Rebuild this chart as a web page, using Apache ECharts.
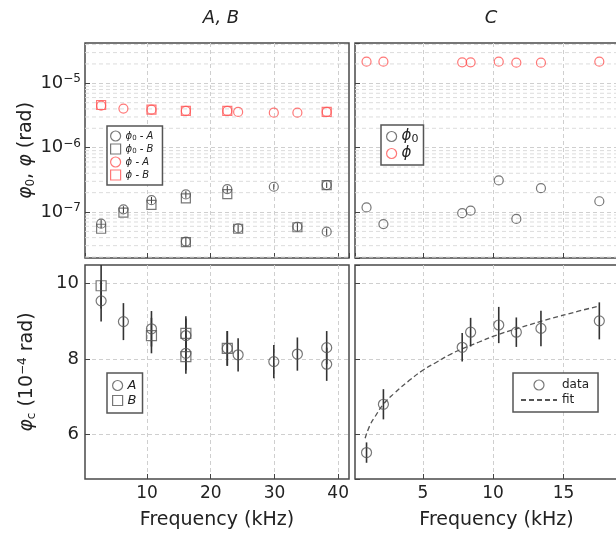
<!DOCTYPE html>
<html>
<head>
<meta charset="utf-8">
<title>phase vs frequency</title>
<script src="https://cdn.jsdelivr.net/npm/echarts@6.0.0/dist/echarts.min.js"></script>
<style>
  html, body { margin: 0; padding: 0; background: #fff; }
  #main { width: 616px; height: 537px; }
</style>
</head>
<body>
<div id="main"></div>
<script>
// samples A / B (kHz)
var freqA = [2.8, 6.3, 10.7, 16.1, 16.1, 22.6, 24.3, 29.9, 33.6, 38.2, 38.2];
var phi0A = [6.6e-8, 1.1e-7, 1.53e-7, 1.88e-7, 3.47e-8, 2.27e-7, 5.6e-8, 2.47e-7, 5.9e-8, 2.62e-7, 4.95e-8];
var relErr0A = [0.15, 0.12, 0.12, 0.12, 0.15, 0.12, 0.14, 0.1, 0.14, 0.1, 0.12];
var freqB0 = [2.8, 6.3, 10.7, 16.1, 16.1, 22.6, 24.3, 33.6, 38.2];
var phi0B = [5.5e-8, 9.8e-8, 1.29e-7, 1.63e-7, 3.4e-8, 1.9e-7, 5.5e-8, 5.8e-8, 2.62e-7];
var freqPhiA = [2.8, 6.3, 10.7, 16.1, 22.6, 24.3, 29.9, 33.6, 38.2];
var phiA = [4.5e-6, 4.05e-6, 3.9e-6, 3.72e-6, 3.72e-6, 3.59e-6, 3.5e-6, 3.5e-6, 3.59e-6];
var freqPhiB = [2.8, 10.7, 16.1, 22.6, 38.2];
var phiB = [4.6e-6, 3.9e-6, 3.72e-6, 3.72e-6, 3.59e-6];

// phi_c for A / B (10^-4 rad)
var phicA = [9.54, 8.99, 8.8, 8.62, 8.15, 8.28, 8.11, 7.93, 8.13, 8.3, 7.86];
var errA = [0.55, 0.49, 0.47, 0.45, 0.45, 0.46, 0.44, 0.44, 0.44, 0.44, 0.44];
var freqB = [2.8, 10.7, 16.1, 16.1, 22.6];
var phicB = [9.94, 8.62, 8.68, 8.06, 8.28];
var errB = [0.6, 0.47, 0.45, 0.45, 0.46];

// sample C
var freqC = [1.0, 2.2, 7.8, 8.4, 10.4, 11.65, 13.4, 17.55];
var phi0C = [1.18e-7, 6.5e-8, 9.6e-8, 1.05e-7, 3.1e-7, 7.8e-8, 2.35e-7, 1.47e-7];
var phiC = [2.17e-5, 2.17e-5, 2.12e-5, 2.12e-5, 2.17e-5, 2.09e-5, 2.09e-5, 2.17e-5];
var phicC = [5.52, 6.8, 8.31, 8.71, 8.9, 8.71, 8.81, 9.01];
var errC = [0.27, 0.4, 0.38, 0.38, 0.48, 0.39, 0.47, 0.49];
var fitFreq = [0.9, 1.25, 1.6, 2.2, 3, 4, 5, 6, 7, 8, 9, 10, 12, 14, 16, 17.4];
var fitVal = [5.9, 6.25, 6.47, 6.8, 7.1, 7.42, 7.7, 7.92, 8.13, 8.3, 8.45, 8.6, 8.84, 9.06, 9.26, 9.39];

// minor log grid (mantissa x decade)
var minorMant = [2, 3, 4, 5, 6, 7, 8, 9];
var minorExp = [-8, -7, -6, -5];

var FONT = 'DejaVu Sans';
var GRAY = '#555';
var RED = '#ff5555';
var TXT = '#222';
var LOG_MIN = 1.93e-8, LOG_MAX = 4.23e-5;

var minorVals = [];
minorExp.forEach(function (e) {
  minorMant.forEach(function (m) {
    var v = m * Math.pow(10, e);
    if (v > LOG_MIN && v < LOG_MAX) minorVals.push(v);
  });
});

function pts(xs, ys) { return xs.map(function (x, i) { return [x, ys[i]]; }); }
function errPts(xs, ys, es) { return xs.map(function (x, i) { return [x, ys[i], es[i]]; }); }

var chart = echarts.init(document.getElementById('main'));

var gridLine = { show: true, showMinLine: false, showMaxLine: false,
  lineStyle: { color: '#cfcfcf', type: [4, 3], width: 1 } };
var tick = { show: true, inside: true, length: 5, lineStyle: { color: '#444', width: 1 } };

function xAxis(gi, min, max, step, labels) {
  return {
    type: 'value', gridIndex: gi, min: min, max: max,
    minInterval: step, maxInterval: step,
    axisLine: { show: false }, axisTick: tick, splitLine: gridLine,
    axisLabel: {
      show: labels, showMinLabel: false, showMaxLabel: false, margin: 6,
      fontFamily: FONT, fontSize: 17, color: TXT
    },
    name: labels ? 'Frequency (kHz)' : '', nameLocation: 'middle', nameGap: 32,
    nameTextStyle: { fontFamily: FONT, fontSize: 19, color: TXT }
  };
}

var supRich = {
  b: { fontFamily: FONT, fontSize: 18, color: TXT },
  s: { fontFamily: FONT, fontSize: 12, color: TXT, verticalAlign: 'top', padding: [0, 0, 8, 0] }
};

function logAxis(gi, labels, name) {
  return {
    type: 'log', logBase: 10, gridIndex: gi, min: LOG_MIN, max: LOG_MAX,
    axisLine: { show: false }, axisTick: tick, splitLine: gridLine,
    axisLabel: {
      show: labels, showMinLabel: false, showMaxLabel: false, margin: 4,
      formatter: function (v) {
        var e = Math.round(Math.log(v) / Math.LN10);
        return '{b|10}{s|\u2212' + Math.abs(e) + '}';
      },
      rich: supRich
    },
    name: name || '', nameLocation: 'middle', nameGap: 42,
    nameTextStyle: {
      fontFamily: FONT, fontSize: 19, color: TXT,
      rich: {
        i: { fontFamily: FONT, fontSize: 19, fontStyle: 'italic', color: TXT },
        sub: { fontFamily: FONT, fontSize: 12, color: TXT, padding: [8, 0, 0, 0] },
        n: { fontFamily: FONT, fontSize: 19, color: TXT }
      }
    }
  };
}

function linAxis(gi, labels, name) {
  return {
    type: 'value', gridIndex: gi, min: 4.82, max: 10.49, splitNumber: 3,
    axisLine: { show: false }, axisTick: tick, splitLine: gridLine,
    axisLabel: {
      show: labels, showMinLabel: false, showMaxLabel: false, margin: 6,
      fontFamily: FONT, fontSize: 18, color: TXT
    },
    name: name || '', nameLocation: 'middle', nameGap: 47,
    nameTextStyle: {
      fontFamily: FONT, fontSize: 19, color: TXT,
      rich: {
        i: { fontFamily: FONT, fontSize: 19, fontStyle: 'italic', color: TXT },
        sub: { fontFamily: FONT, fontSize: 12, color: TXT, padding: [8, 0, 0, 0] },
        sup: { fontFamily: FONT, fontSize: 12, color: TXT, padding: [0, 0, 9, 0] },
        n: { fontFamily: FONT, fontSize: 19, color: TXT }
      }
    }
  };
}

function hollow(name, xi, symbol, color, data, size) {
  return {
    name: name, type: 'scatter', xAxisIndex: xi, yAxisIndex: xi,
    symbol: symbol, symbolSize: size || 9, z: 4,
    itemStyle: { color: 'rgba(0,0,0,0)', borderColor: color, borderWidth: 1.2 },
    emphasis: { disabled: true },
    data: data
  };
}

// vertical error bars; rel = true means the error is a fraction of the value
function errBars(name, xi, data, rel, width) {
  return {
    name: name, type: 'custom', xAxisIndex: xi, yAxisIndex: xi, clip: true, z: 3, silent: true,
    renderItem: function (params, api) {
      var x = api.value(0), y = api.value(1), e = api.value(2);
      var lo = rel ? y * (1 - e) : y - e;
      var hi = rel ? y * (1 + e) : y + e;
      var p1 = api.coord([x, lo]);
      var p2 = api.coord([x, hi]);
      return {
        type: 'line',
        shape: { x1: p1[0], y1: p1[1], x2: p2[0], y2: p2[1] },
        style: { stroke: '#333', lineWidth: width || 1.6 }
      };
    },
    data: data
  };
}

// light dashed lines at the minor decades, drawn across the whole grid
function minorGrid(name, xi, xMid) {
  return {
    name: name, type: 'custom', xAxisIndex: xi, yAxisIndex: xi, clip: true, z: 1, silent: true,
    renderItem: function (params, api) {
      var p = api.coord([api.value(0), api.value(1)]);
      var cs = params.coordSys;
      return {
        type: 'line',
        shape: { x1: cs.x, y1: p[1], x2: cs.x + cs.width, y2: p[1] },
        style: { stroke: '#dcdcdc', lineWidth: 1, lineDash: [4, 3] }
      };
    },
    data: minorVals.map(function (v) { return [xMid, v]; })
  };
}

var legendBase = {
  orient: 'vertical', selectedMode: false, backgroundColor: '#fff',
  borderColor: '#555', borderWidth: 1.5, borderRadius: 0,
  itemStyle: { borderWidth: 1.2 }
};

function legendItemText(size) {
  return {
    fontFamily: FONT, fontSize: size, color: TXT, lineHeight: size + 2,
    rich: {
      i: { fontFamily: FONT, fontSize: size, fontStyle: 'italic', color: TXT },
      s: { fontFamily: FONT, fontSize: Math.round(size * 0.7), color: TXT, padding: [size * 0.4, 0, 0, 0] },
      n: { fontFamily: FONT, fontSize: size, color: TXT }
    }
  };
}

var legendLabels = {
  'ϕ0 - A': '{i|ϕ}{s|0}{i| - A}',
  'ϕ0 - B': '{i|ϕ}{s|0}{i| - B}',
  'ϕ - A': '{i|ϕ - A}',
  'ϕ - B': '{i|ϕ - B}',
  'ϕ0': '{i|ϕ}{s|0}',
  'ϕ': '{i|ϕ}',
  'A': '{i|A}',
  'B': '{i|B}',
  'data': '{n|data}',
  'fit': '{n|fit}'
};
function legendFmt(name) { return legendLabels[name] || name; }

var gridBase = { show: true, borderColor: '#4a4a4a', borderWidth: 1.5, backgroundColor: '#fff',
  containLabel: false, outerBoundsMode: 'none' };

var option = {
  animation: false,
  backgroundColor: '#fff',
  title: [
    { text: 'A, B', left: 216, top: 4, textAlign: 'center',
      textStyle: { fontFamily: FONT, fontSize: 18, fontStyle: 'italic', fontWeight: 'normal', color: TXT } },
    { text: 'C', left: 486, top: 4, textAlign: 'center',
      textStyle: { fontFamily: FONT, fontSize: 18, fontStyle: 'italic', fontWeight: 'normal', color: TXT } }
  ],
  grid: [
    Object.assign({ left: 85, top: 43, width: 264, height: 215 }, gridBase),
    Object.assign({ left: 355, top: 43, width: 283, height: 215 }, gridBase),
    Object.assign({ left: 85, top: 265, width: 264, height: 214 }, gridBase),
    Object.assign({ left: 355, top: 265, width: 283, height: 214 }, gridBase)
  ],
  xAxis: [
    xAxis(0, 0.27, 41.7, 10, false),
    xAxis(1, 0.18, 20.3, 5, false),
    xAxis(2, 0.27, 41.7, 10, true),
    xAxis(3, 0.18, 20.3, 5, true)
  ],
  yAxis: [
    logAxis(0, true, '{i|φ}{sub|0}{n|, }{i|φ}{n| (rad)}'),
    logAxis(1, false),
    linAxis(2, true, '{i|φ}{sub|c}{n| (10}{sup|\u22124}{n| rad)}'),
    linAxis(3, false)
  ],
  legend: [
    Object.assign({}, legendBase, {
      left: 107, top: 126, padding: [4, 9, 4, 3], itemGap: 1, itemWidth: 10, itemHeight: 10,
      data: ['ϕ0 - A', 'ϕ0 - B', 'ϕ - A', 'ϕ - B'],
      formatter: legendFmt, textStyle: legendItemText(10)
    }),
    Object.assign({}, legendBase, {
      left: 381, top: 125, padding: [3, 5, 3, 5], itemGap: 0, itemWidth: 10, itemHeight: 10,
      data: ['ϕ0', 'ϕ'],
      formatter: legendFmt, textStyle: legendItemText(15)
    }),
    Object.assign({}, legendBase, {
      left: 107, top: 373, padding: [5, 6, 5, 5], itemGap: 0, itemWidth: 10, itemHeight: 10,
      data: ['A', 'B'],
      formatter: legendFmt, textStyle: legendItemText(13)
    }),
    Object.assign({}, legendBase, {
      left: 513, top: 373, padding: [5, 9, 5, 7], itemGap: 1, itemWidth: 36, itemHeight: 10,
      data: ['data', { name: 'fit', itemStyle: { opacity: 0 } }],
      formatter: legendFmt, textStyle: legendItemText(12)
    })
  ],
  series: [
    minorGrid('minorAB', 0, 20),
    errBars('err0A', 0, errPts(freqA, phi0A, relErr0A), true, 1),
    hollow('ϕ0 - A', 0, 'circle', GRAY, pts(freqA, phi0A)),
    hollow('ϕ0 - B', 0, 'rect', GRAY, pts(freqB0, phi0B)),
    hollow('ϕ - A', 0, 'circle', RED, pts(freqPhiA, phiA)),
    hollow('ϕ - B', 0, 'rect', RED, pts(freqPhiB, phiB)),

    minorGrid('minorC', 1, 10),
    hollow('ϕ0', 1, 'circle', GRAY, pts(freqC, phi0C)),
    hollow('ϕ', 1, 'circle', RED, pts(freqC, phiC)),

    errBars('errA', 2, errPts(freqA, phicA, errA)),
    errBars('errB', 2, errPts(freqB, phicB, errB)),
    hollow('A', 2, 'circle', GRAY, pts(freqA, phicA), 10),
    hollow('B', 2, 'rect', GRAY, pts(freqB, phicB), 10),

    errBars('errC', 3, errPts(freqC, phicC, errC)),
    hollow('data', 3, 'circle', GRAY, pts(freqC, phicC), 10),
    {
      name: 'fit', type: 'line', xAxisIndex: 3, yAxisIndex: 3, smooth: true,
      symbol: 'none', z: 2,
      lineStyle: { color: GRAY, width: 1.3, type: [5, 3] },
      itemStyle: { color: GRAY },
      data: pts(fitFreq, fitVal)
    }
  ]
};

chart.setOption(option);
</script>
</body>
</html>
